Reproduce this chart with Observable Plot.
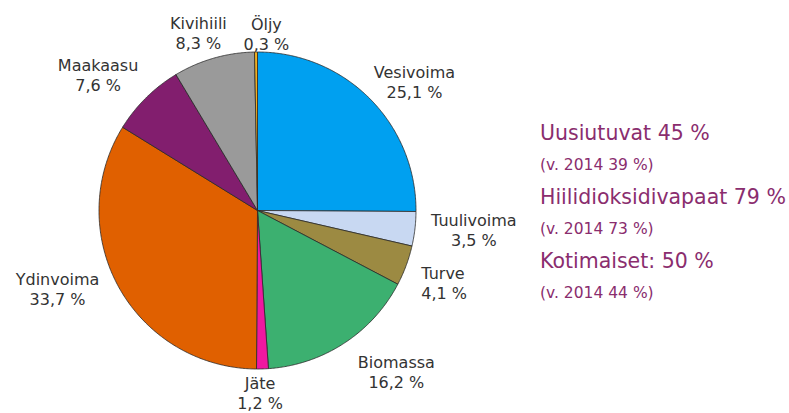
<!DOCTYPE html>
<html>
<head>
<meta charset="utf-8">
<script src="https://cdn.jsdelivr.net/npm/d3@7"></script>
<script src="https://cdn.jsdelivr.net/npm/@observablehq/plot@0.6"></script>
<style>
  html, body { margin: 0; padding: 0; background: #fff; }
  #wrap { display: flex; width: 789px; height: 413px; overflow: hidden; font-family: "DejaVu Sans", Verdana, sans-serif; }
  #chart { width: 530px; flex: none; }
  #side { flex: 1; padding-top: 115px; padding-left: 10px; color: #8a2d6e; white-space: nowrap; }
  #side .big { font-size: 20.5px; line-height: 36px; }
  #side .small { font-size: 15.5px; line-height: 28px; }
</style>
</head>
<body>
<div id="wrap">
  <div id="chart"></div>
  <div id="side"></div>
</div>
<script>
// Data
const sources = ["Vesivoima", "Tuulivoima", "Turve", "Biomassa", "Jäte", "Ydinvoima", "Maakaasu", "Kivihiili", "Öljy"];
const shares  = [25.1, 3.5, 4.1, 16.2, 1.2, 33.7, 7.6, 8.3, 0.3];
const colors  = ["#00a0f0", "#c8d8f2", "#9c8a42", "#3cb070", "#f018a0", "#e06000", "#821e6e", "#9a9a9a", "#f0b020"];
const summaryTitles = ["Uusiutuvat 45 %", "Hiilidioksidivapaat 79 %", "Kotimaiset: 50 %"];
const summaryNotes  = ["(v. 2014 39 %)", "(v. 2014 73 %)", "(v. 2014 44 %)"];

// Label layout: [angle nudge in degrees, radius factor]
const labelLayout = {
  "Vesivoima": [5.5, 1.28], "Tuulivoima": [-1.7, 1.37], "Turve": [3.5, 1.13],
  "Biomassa": [-7.7, 1.34], "Jäte": [1, 1.15], "Ydinvoima": [7.6, 1.355],
  "Maakaasu": [-5, 1.32], "Kivihiili": [-2.4, 1.18], "Öljy": [3.4, 1.12]
};

const table = sources.map((name, i) => ({name, value: shares[i]}));
const arcs = d3.pie().sort(null).value(d => d.value)(table);

// Slice outlines in unit-circle space (clockwise from 12 o'clock)
const slicePts = [];
arcs.forEach(a => {
  const n = Math.max(2, Math.ceil((a.endAngle - a.startAngle) / (Math.PI / 360)));
  slicePts.push({name: a.data.name, x: 0, y: 0});
  for (let k = 0; k <= n; k++) {
    const t = a.startAngle + (a.endAngle - a.startAngle) * k / n;
    slicePts.push({name: a.data.name, x: Math.sin(t), y: Math.cos(t)});
  }
  slicePts.push({name: a.data.name, x: 0, y: 0});
});

const fmt = v => v.toFixed(1).replace(".", ",") + " %";
const labels = arcs.map(a => {
  const [nudge, rf] = labelLayout[a.data.name];
  const t = (a.startAngle + a.endAngle) / 2 + nudge * Math.PI / 180;
  return {name: a.data.name, x: rf * Math.sin(t), y: rf * Math.cos(t),
          text: a.data.name + "\n" + fmt(a.data.value),
          anchor: a.data.name === "Turve" ? "start" : "middle"};
});

const cx = 257, cy = 210, r = 158.5;
const chart = Plot.plot({
  width: 530,
  height: 413,
  margin: 0,
  style: {fontFamily: "'DejaVu Sans', Verdana, sans-serif", background: "white"},
  x: {domain: [-1, 1], range: [cx - r, cx + r], axis: null},
  y: {domain: [-1, 1], range: [cy + r, cy - r], axis: null},
  color: {domain: sources, range: colors},
  marks: [
    Plot.line(slicePts, {x: "x", y: "y", z: "name", fill: "name", stroke: "#2a2a2a", strokeWidth: 0.8, strokeLinejoin: "round"}),
    Plot.text(labels.filter(d => d.anchor === "middle"), {x: "x", y: "y", text: "text", fontSize: 16, lineHeight: 1.25, textAnchor: "middle", lineAnchor: "middle", fill: "#333"}),
    Plot.text(labels.filter(d => d.anchor === "start"), {x: "x", y: "y", text: "text", fontSize: 16, lineHeight: 1.25, textAnchor: "start", lineAnchor: "middle", fill: "#333"})
  ]
});
document.getElementById("chart").appendChild(chart);

const side = document.getElementById("side");
summaryTitles.forEach((t, i) => {
  const b = document.createElement("div"); b.className = "big"; b.textContent = t; side.appendChild(b);
  const s = document.createElement("div"); s.className = "small"; s.textContent = summaryNotes[i]; side.appendChild(s);
});
</script>
</body>
</html>
